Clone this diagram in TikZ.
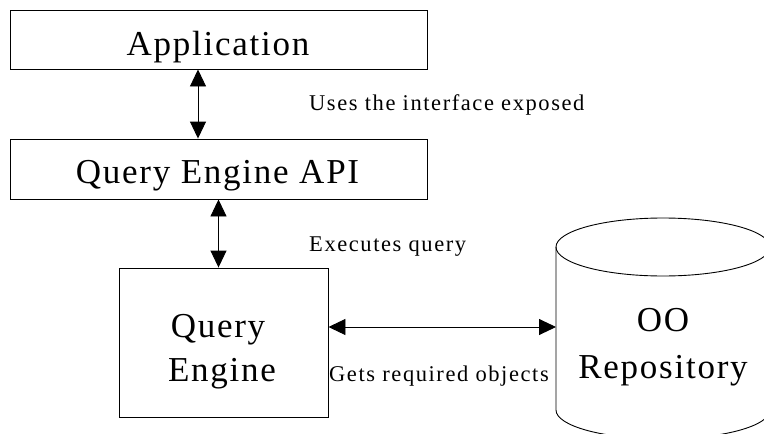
\documentclass[tikz,border=0pt]{standalone}
\usepackage{fontspec}
\setmainfont{Liberation Serif}
\newfontfamily\bigfam{Liberation Serif}[LetterSpace=5]
\newfontfamily\smallfam{Liberation Serif}[LetterSpace=7]
\usetikzlibrary{arrows.meta}
\begin{document}
\begin{tikzpicture}[x=1pt,y=-1pt,
  box/.style={draw, line width=0.9pt, inner sep=0pt},
  big/.style={font=\bigfam\fontsize{35}{43}\selectfont, inner sep=0pt, anchor=base},
  small/.style={font=\smallfam\fontsize{22.5}{26}\selectfont, inner sep=0pt, anchor=base west},
  dbl/.style={{Triangle[width=16pt,length=17pt]}-{Triangle[width=16pt,length=17pt]}, line width=0.9pt}]
\useasboundingbox (0,0) rectangle (764,434);
\clip (0,0) rectangle (764,434);
% boxes
\node[box, minimum width=417pt, minimum height=59pt] (app) at (218.5,39.5) {};
\node[big] (appT) at (218,55) {Application};
\node[box, minimum width=417pt, minimum height=60pt] (api) at (218.5,169) {};
\node[big] (apiT) at (217.5,183) {Query Engine API};
\node[box, minimum width=209pt, minimum height=149pt] (qe) at (223.5,342.5) {};
\node[big] (qeT1) at (218,337) {Query};
\node[big] (qeT2) at (222,381) {Engine};
% cylinder
\coordinate (repoW) at (556,327);
\draw[line width=0.9pt] (663,247) ellipse [x radius=107, y radius=29];
\draw[line width=0.9pt] (556,247) -- (556,410) .. controls (556,426) and (604,439) .. (663,439) .. controls (722,439) and (770,426) .. (770,410) -- (770,247);
\node[big] (repoT1) at (663,331) {OO};
\node[big] (repoT2) at (663,378) {Repository};
% connectors
\draw[dbl] ([xshift=-20.5pt]app.south) -- ([xshift=-20.5pt]api.north);
\draw[dbl] (api.south) -- (api.south |- qe.north);
\draw[dbl] (qe.east |- repoW) -- (repoW);
% labels
\node[small] (l1) at (309,110) {Uses the interface exposed};
\node[small] (l2) at (309,251) {Executes query};
\node[small] (l3) at (329,381) {Gets required objects};
\end{tikzpicture}
\end{document}
